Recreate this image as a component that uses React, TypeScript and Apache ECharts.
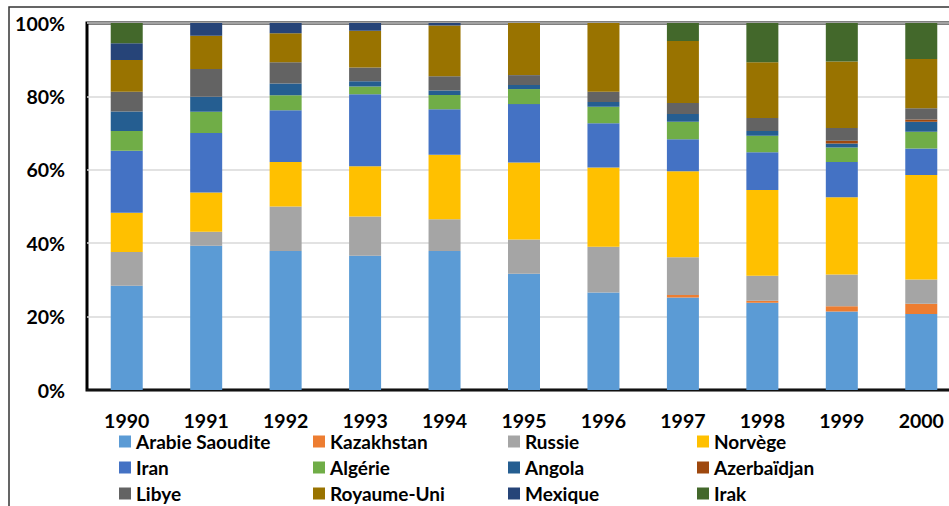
import React, { useEffect, useRef } from "react";
import * as echarts from "echarts";

const years = ["1990", "1991", "1992", "1993", "1994", "1995", "1996", "1997", "1998", "1999", "2000"];
const yTicks = [0, 20, 40, 60, 80, 100];

const seriesNames = [
  "Arabie Saoudite", "Kazakhstan", "Russie", "Norvège",
  "Iran", "Algérie", "Angola", "Azerbaïdjan",
  "Libye", "Royaume-Uni", "Mexique", "Irak",
];
const colors = [
  "#5B9BD5", "#ED7D31", "#A5A5A5", "#FFC000",
  "#4472C4", "#70AD47", "#255E91", "#9E480E",
  "#636363", "#997300", "#264478", "#43682B",
];

const arabieSaoudite = [28.4, 39.3, 37.9, 36.6, 37.9, 31.7, 26.6, 25.2, 23.8, 21.4, 20.7];
const kazakhstan = [0, 0, 0, 0, 0, 0, 0, 0.7, 0.5, 1.4, 2.8];
const russie = [9.2, 3.8, 12.1, 10.7, 8.6, 9.3, 12.4, 10.3, 6.8, 8.7, 6.6];
const norvege = [10.7, 10.7, 12.1, 13.7, 17.6, 21.0, 21.6, 23.4, 23.4, 21.0, 28.5];
const iran = [16.9, 16.2, 14.1, 19.6, 12.4, 15.9, 12.1, 8.7, 10.3, 9.6, 7.2];
const algerie = [5.4, 5.8, 4.1, 2.1, 3.9, 4.1, 4.5, 4.8, 4.5, 4.0, 4.6];
const angola = [5.3, 4.1, 3.2, 1.4, 1.2, 1.1, 1.3, 2.1, 1.3, 1.1, 2.7];
const azerbaidjan = [0, 0, 0, 0, 0, 0, 0, 0, 0, 0.7, 0.6];
const libye = [5.4, 7.6, 5.8, 3.8, 3.9, 2.7, 2.8, 3.0, 3.5, 3.5, 3.1];
const royaumeUni = [8.6, 9.0, 7.9, 10.0, 13.8, 14.2, 18.7, 16.9, 15.2, 18.1, 13.4];
const mexique = [4.6, 3.5, 2.8, 2.1, 0.7, 0, 0, 0, 0, 0, 0];
const irak = [5.5, 0, 0, 0, 0, 0, 0, 4.9, 10.7, 10.5, 9.8];

const seriesValues = [
  arabieSaoudite, kazakhstan, russie, norvege,
  iran, algerie, angola, azerbaidjan,
  libye, royaumeUni, mexique, irak,
];

const FONT = "Lato";
const legendCols = [119, 313, 508, 697];
const legendRowCenters = [443, 469, 495];

export default function App() {
  const ref = useRef<HTMLDivElement>(null);

  useEffect(() => {
    document.body.style.margin = "0";
    if (!ref.current) return;
    const chart = echarts.init(ref.current, null, { renderer: "svg" });

    const totals = years.map((_, i) => seriesValues.reduce((s, arr) => s + arr[i], 0));
    const series = seriesNames.map((name, k) => ({
      name,
      type: "bar" as const,
      stack: "total",
      barWidth: 32,
      itemStyle: { color: colors[k] },
      data: seriesValues[k].map((v, i) => (v / totals[i]) * 100),
    }));

    const legends = seriesNames.map((name, k) => ({
      data: [name],
      orient: "horizontal" as const,
      left: legendCols[k % 4],
      top: legendRowCenters[Math.floor(k / 4)] - 11,
      padding: 0,
      itemWidth: 12,
      itemHeight: 12,
      itemGap: 0,
      icon: "rect",
      selectedMode: false,
      textStyle: {
        fontFamily: FONT,
        fontWeight: "bold",
        fontSize: 19,
        color: "#000",
      },
    }));

    chart.setOption({
      animation: false,
      backgroundColor: "#fff",
      grid: {
        left: 87,
        top: 23,
        right: -12,
        bottom: 116,
        show: true,
        borderColor: "#000",
        borderWidth: 3,
        outerBoundsMode: "none",
      },
      legend: legends,
      xAxis: {
        type: "category",
        data: years,
        axisTick: { show: false },
        axisLine: { show: true, lineStyle: { color: "#111", width: 2 } },
        axisLabel: {
          fontFamily: FONT,
          fontWeight: "bold",
          fontSize: 19.5,
          color: "#000",
          margin: 20,
        },
      },
      yAxis: {
        type: "value",
        min: yTicks[0],
        max: yTicks[yTicks.length - 1],
        interval: 20,
        axisLine: { show: false },
        axisTick: { show: false },
        splitLine: { show: true, lineStyle: { color: "#d9d9d9", width: 1.5 } },
        axisLabel: {
          fontFamily: FONT,
          fontWeight: "bold",
          fontSize: 19.5,
          color: "#000",
          margin: 22,
          formatter: "{value}%",
        },
      },
      graphic: [
        {
          type: "rect",
          shape: { x: 9, y: 7, width: 1200, height: 800 },
          style: { fill: "none", stroke: "#333", lineWidth: 1.5 },
          silent: true,
          z: -1,
        },
      ],
      series,
    });

    return () => chart.dispose();
  }, []);

  return <div ref={ref} style={{ width: 949, height: 506, position: "absolute", left: 0, top: 0 }} />;
}
